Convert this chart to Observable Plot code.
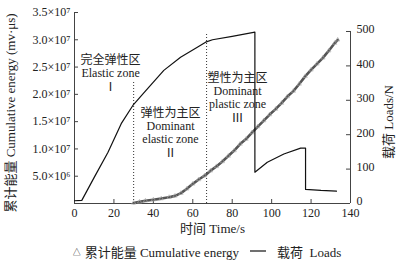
<!DOCTYPE html>
<html><head><meta charset="utf-8">
<script src="https://cdn.jsdelivr.net/npm/d3@7"></script>
<script src="https://cdn.jsdelivr.net/npm/@observablehq/plot@0.6"></script>
<style>
body{margin:0;background:#fff;font-family:"Liberation Serif","Noto Sans CJK SC",serif;color:#222}
#legend{height:22px;display:flex;justify-content:center;align-items:center;font-size:13px;padding-left:16px}
#legend span{white-space:pre}
</style></head><body>
<div id="chart"></div>
<div id="legend"></div>
<script>
// Load (N) vs time (s)
const loadT = [0, 3.7, 10, 17, 23.7, 29.6, 35.5, 45.3, 53.8, 62.3, 66.5, 70, 80, 91.5, 91.5, 97.8, 106.2, 114.7, 117.2, 117.2, 125, 132.9];
const loadN = [8, 9, 76, 149, 232, 285, 324, 387, 425, 454, 469, 476, 486, 498, 91, 120, 144, 161, 161, 41, 38, 36];
// Cumulative energy (mv·μs) vs time (s)
const energyT = [30, 33, 36, 40, 44, 48, 51, 54, 57, 60, 63, 66, 69, 72, 75, 78, 81, 84, 87, 90, 93, 96, 99, 102, 105, 108, 111, 114, 117, 120, 123, 126, 129, 132, 133.5];
const energyE = [0.1e6, 0.3e6, 0.5e6, 0.7e6, 0.9e6, 1.15e6, 1.4e6, 1.9e6, 2.7e6, 3.6e6, 4.4e6, 5.1e6, 6.0e6, 6.8e6, 7.7e6, 8.7e6, 9.7e6, 10.9e6, 11.8e6, 13.0e6, 14.1e6, 15.2e6, 16.3e6, 17.3e6, 18.4e6, 19.6e6, 20.6e6, 21.9e6, 23.3e6, 24.5e6, 25.6e6, 26.7e6, 28.0e6, 29.4e6, 30.0e6];
// Axis ticks
const xTicks = [0, 20, 40, 60, 80, 100, 120, 140];
const leftTicks = [5e6, 1e7, 1.5e7, 2e7, 2.5e7, 3e7, 3.5e7];
const leftTickLabels = ["5.0×10⁶", "1.0×10⁷", "1.5×10⁷", "2.0×10⁷", "2.5×10⁷", "3.0×10⁷", "3.5×10⁷"];
const rightTicks = [0, 100, 200, 300, 400, 500];
// Zone boundaries (s) and the height of their dotted lines
const zoneBounds = [30, 67];
const zoneBoundTop = [22.2e6, 31.2e6];
// Zone annotation lines
const zoneText = ["完全弹性区", "Elastic zone", "Ⅰ", "弹性为主区", "Dominant", "elastic zone", "Ⅱ", "塑性为主区", "Dominant", "plastic zone", "Ⅲ"];
const zoneTextX = [18.3, 18.3, 18.3, 48.7, 48.7, 48.7, 48.7, 82.7, 82.7, 82.7, 82.7];
const zoneTextY = [26.2e6, 23.82e6, 21.26e6, 16.49e6, 14.11e6, 11.73e6, 9.26e6, 23.0e6, 20.62e6, 18.23e6, 15.67e6];

const loadMax = 500, loadTopE = 3.152e7, k = loadTopE / loadMax;
const load = loadT.map((t, i) => ({t, v: loadN[i] * k}));
const energy = energyT.map((t, i) => ({t, e: energyE[i]}));
const zones = zoneText.map((s, i) => ({s, x: zoneTextX[i], y: zoneTextY[i]}));
const bounds = zoneBounds.map((x, i) => ({x, top: zoneBoundTop[i]}));

const W = 398, H = 240, mL = 74, mR = 48, mT = 12, mB = 37;
const fw = W - mL - mR, fh = H - mT - mB;
const axisColor = "#444";
const font = '"Liberation Serif","Noto Sans CJK SC",serif';

const chart = Plot.plot({
  width: W, height: H,
  marginLeft: mL, marginRight: mR, marginTop: mT, marginBottom: mB,
  x: {domain: [0, 140]},
  y: {domain: [0, 3.5e7]},
  style: {fontFamily: font, fontSize: "12px", color: "#222", background: "#fff"},
  marks: [
    // axis lines
    Plot.ruleX([0], {y1: 0, y2: 3.5e7, stroke: axisColor}),
    Plot.ruleX([140], {y1: 0, y2: loadTopE, stroke: axisColor}),
    Plot.ruleY([0], {x1: 0, x2: 140, stroke: axisColor}),
    // inward ticks
    Plot.tickX(xTicks, {x: d => d, insetTop: fh - 4, stroke: axisColor}),
    Plot.tickY(leftTicks, {y: d => d, insetRight: fw - 4, stroke: axisColor}),
    Plot.tickY(rightTicks, {y: d => d * k, insetLeft: fw - 4, stroke: axisColor}),
    // tick labels
    Plot.axisX(xTicks, {tickSize: 0, tickPadding: 5, label: null, fontSize: 12}),
    Plot.axisY(leftTicks, {anchor: "left", tickSize: 0, tickPadding: 4, label: null, fontSize: 12,
      tickFormat: d => leftTickLabels[leftTicks.indexOf(d)]}),
    Plot.axisY(rightTicks.map(d => d * k), {anchor: "right", tickSize: 0, tickPadding: 6, label: null, fontSize: 12, dy: -2,
      tickFormat: d => rightTicks[Math.round(d / k / 100)]}),
    // axis titles
    Plot.text(["累计能量 Cumulative energy (mv·μs)"], {frameAnchor: "left", textAnchor: "middle", rotate: -90, dx: -64, dy: 5, fontSize: 13}),
    Plot.text(["载荷 Loads/N"], {frameAnchor: "right", textAnchor: "middle", rotate: -90, dx: 38, dy: 14, fontSize: 13}),
    Plot.text(["时间 Time/s"], {frameAnchor: "bottom", dy: 29, fontSize: 13}),
    // zone boundaries
    Plot.ruleX(bounds, {x: "x", y1: 0, y2: "top", stroke: "#333", strokeDasharray: "1,2", strokeWidth: 1}),
    // zone labels
    Plot.text(zones, {x: "x", y: "y", text: "s", fontSize: 12, fill: "#222"}),
    // cumulative energy
    Plot.line(energy, {x: "t", y: "e", stroke: "#555", strokeWidth: 2.6}),
    Plot.dot(energy, {x: "t", y: "e", symbol: "triangle", r: 1.6, stroke: "#aaa", strokeWidth: 0.6, fill: "none"}),
    // load
    Plot.line(load, {x: "t", y: "v", stroke: "#111", strokeWidth: 1.2, curve: "linear"})
  ]
});
document.getElementById("chart").appendChild(chart);

const legend = document.getElementById("legend");
legend.innerHTML =
  '<span style="font-size:8px;margin-right:4px">△</span>' +
  '<span>累计能量 Cumulative energy</span>' +
  '<svg width="28" height="10" style="margin:0 5px"><line x1="6" x2="22" y1="5" y2="5" stroke="#111" stroke-width="1.2"/></svg>' +
  '<span>载荷  Loads</span>';
</script>
</body></html>
